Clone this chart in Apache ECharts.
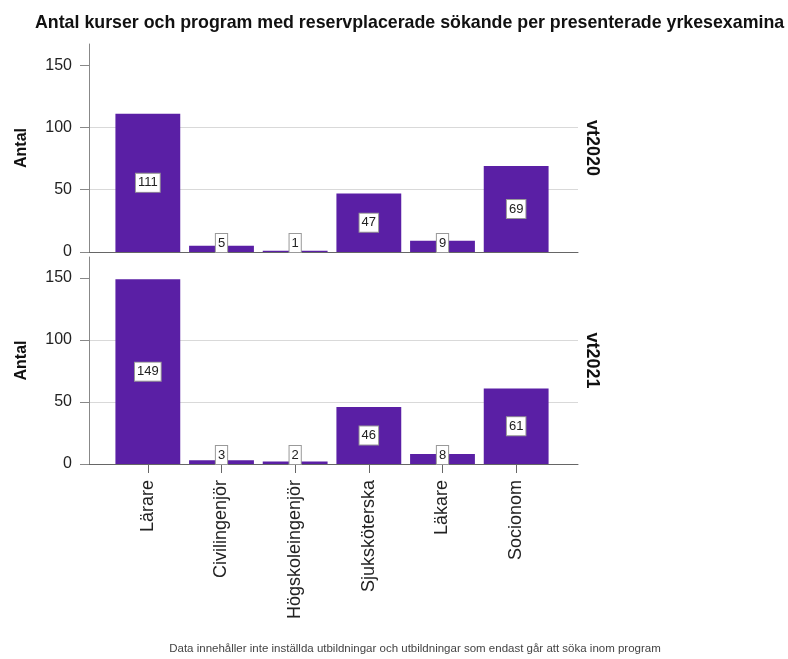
<!DOCTYPE html>
<html>
<head>
<meta charset="utf-8">
<script src="https://cdn.jsdelivr.net/npm/echarts@6/dist/echarts.min.js"></script>
<style>html,body{margin:0;padding:0;background:#fff}#c{width:788px;height:659px}</style>
</head>
<body>
<div id="c"></div>
<script>
const categories = ['Lärare', 'Civilingenjör', 'Högskoleingenjör', 'Sjuksköterska', 'Läkare', 'Socionom'];
const panelNames = ['vt2020', 'vt2021'];
const values2020 = [111, 5, 1, 47, 9, 69];
const values2021 = [149, 3, 2, 46, 8, 61];
const yTickValues = [0, 50, 100, 150];
const yMax = 167;
const titleText = 'Antal kurser och program med reservplacerade sökande per presenterade yrkesexamina';
const footText = 'Data innehåller inte inställda utbildningar och utbildningar som endast går att söka inom program';
const yTitle = 'Antal';

const FONT = 'Liberation Sans, Arial, sans-serif';
const BAR = '#5a1fa5';
const panelValues = [values2020, values2021];
const panelLayout = [{top: 44, height: 208}, {top: 257, height: 207}];
const outerLeft = 89, outerWidth = 489;
const innerLeft = 111, innerWidth = 442;

const grid = [], xAxis = [], yAxis = [], series = [], graphic = [];
panelLayout.forEach((p, i) => {
  const last = i === panelLayout.length - 1;
  grid.push({left: outerLeft, width: outerWidth, top: p.top, height: p.height});
  grid.push({left: innerLeft, width: innerWidth, top: p.top, height: p.height});
  xAxis.push({
    gridIndex: 2 * i, type: 'value', min: 0, max: 1,
    axisLine: {show: true, lineStyle: {color: '#666', width: 1}},
    axisTick: {show: false}, axisLabel: {show: false}, splitLine: {show: false}
  });
  xAxis.push({
    gridIndex: 2 * i + 1, type: 'category', data: categories, boundaryGap: true,
    axisLine: {show: false},
    axisTick: {show: last, alignWithLabel: true, length: 9, lineStyle: {color: '#666'}},
    axisLabel: {show: last, rotate: 90, margin: 16, fontSize: 18, color: '#222', fontFamily: FONT},
    splitLine: {show: false}
  });
  yAxis.push({
    gridIndex: 2 * i, type: 'value', min: 0, max: yMax,
    name: yTitle, nameLocation: 'middle', nameRotate: 90, nameGap: 59,
    nameTextStyle: {fontSize: 16, fontWeight: 'bold', color: '#111', fontFamily: FONT},
    axisLine: {show: true, lineStyle: {color: '#888'}},
    axisTick: {show: true, length: 9, customValues: yTickValues, lineStyle: {color: '#888'}},
    axisLabel: {show: true, customValues: yTickValues, fontSize: 16, color: '#222', margin: 17, fontFamily: FONT},
    splitLine: {show: true, showMaxLine: false, lineStyle: {color: '#d9d9d9'}}
  });
  yAxis.push({gridIndex: 2 * i + 1, type: 'value', min: 0, max: yMax, show: false});
  series.push({
    type: 'bar', xAxisIndex: 2 * i + 1, yAxisIndex: 2 * i + 1,
    barCategoryGap: '12%',
    itemStyle: {color: BAR},
    data: panelValues[i].map(v => ({
      value: v,
      label: {position: v < 20 ? 'insideBottom' : 'inside', distance: 0}
    })),
    label: {
      show: true, color: '#222', fontSize: 13, fontFamily: FONT,
      backgroundColor: '#fff', borderColor: '#999', borderWidth: 1, padding: [3, 2, 2, 2]
    }
  });
  graphic.push({
    type: 'text', x: 592, y: p.top + p.height / 2, rotation: -Math.PI / 2,
    style: {text: panelNames[i], font: 'bold 18px ' + FONT, fill: '#111', align: 'center', verticalAlign: 'middle'}
  });
});
graphic.push({
  type: 'text', x: 415, y: 649,
  style: {text: footText, font: '11.5px ' + FONT, fill: '#444', align: 'center', verticalAlign: 'middle'}
});

const chart = echarts.init(document.getElementById('c'), null, {renderer: 'canvas'});
chart.setOption({
  animation: false,
  backgroundColor: '#fff',
  title: {text: titleText, left: 30, top: 9, textStyle: {fontSize: 17.8, fontWeight: 'bold', color: '#111', fontFamily: FONT}},
  grid, xAxis, yAxis, series, graphic
});
</script>
</body>
</html>
